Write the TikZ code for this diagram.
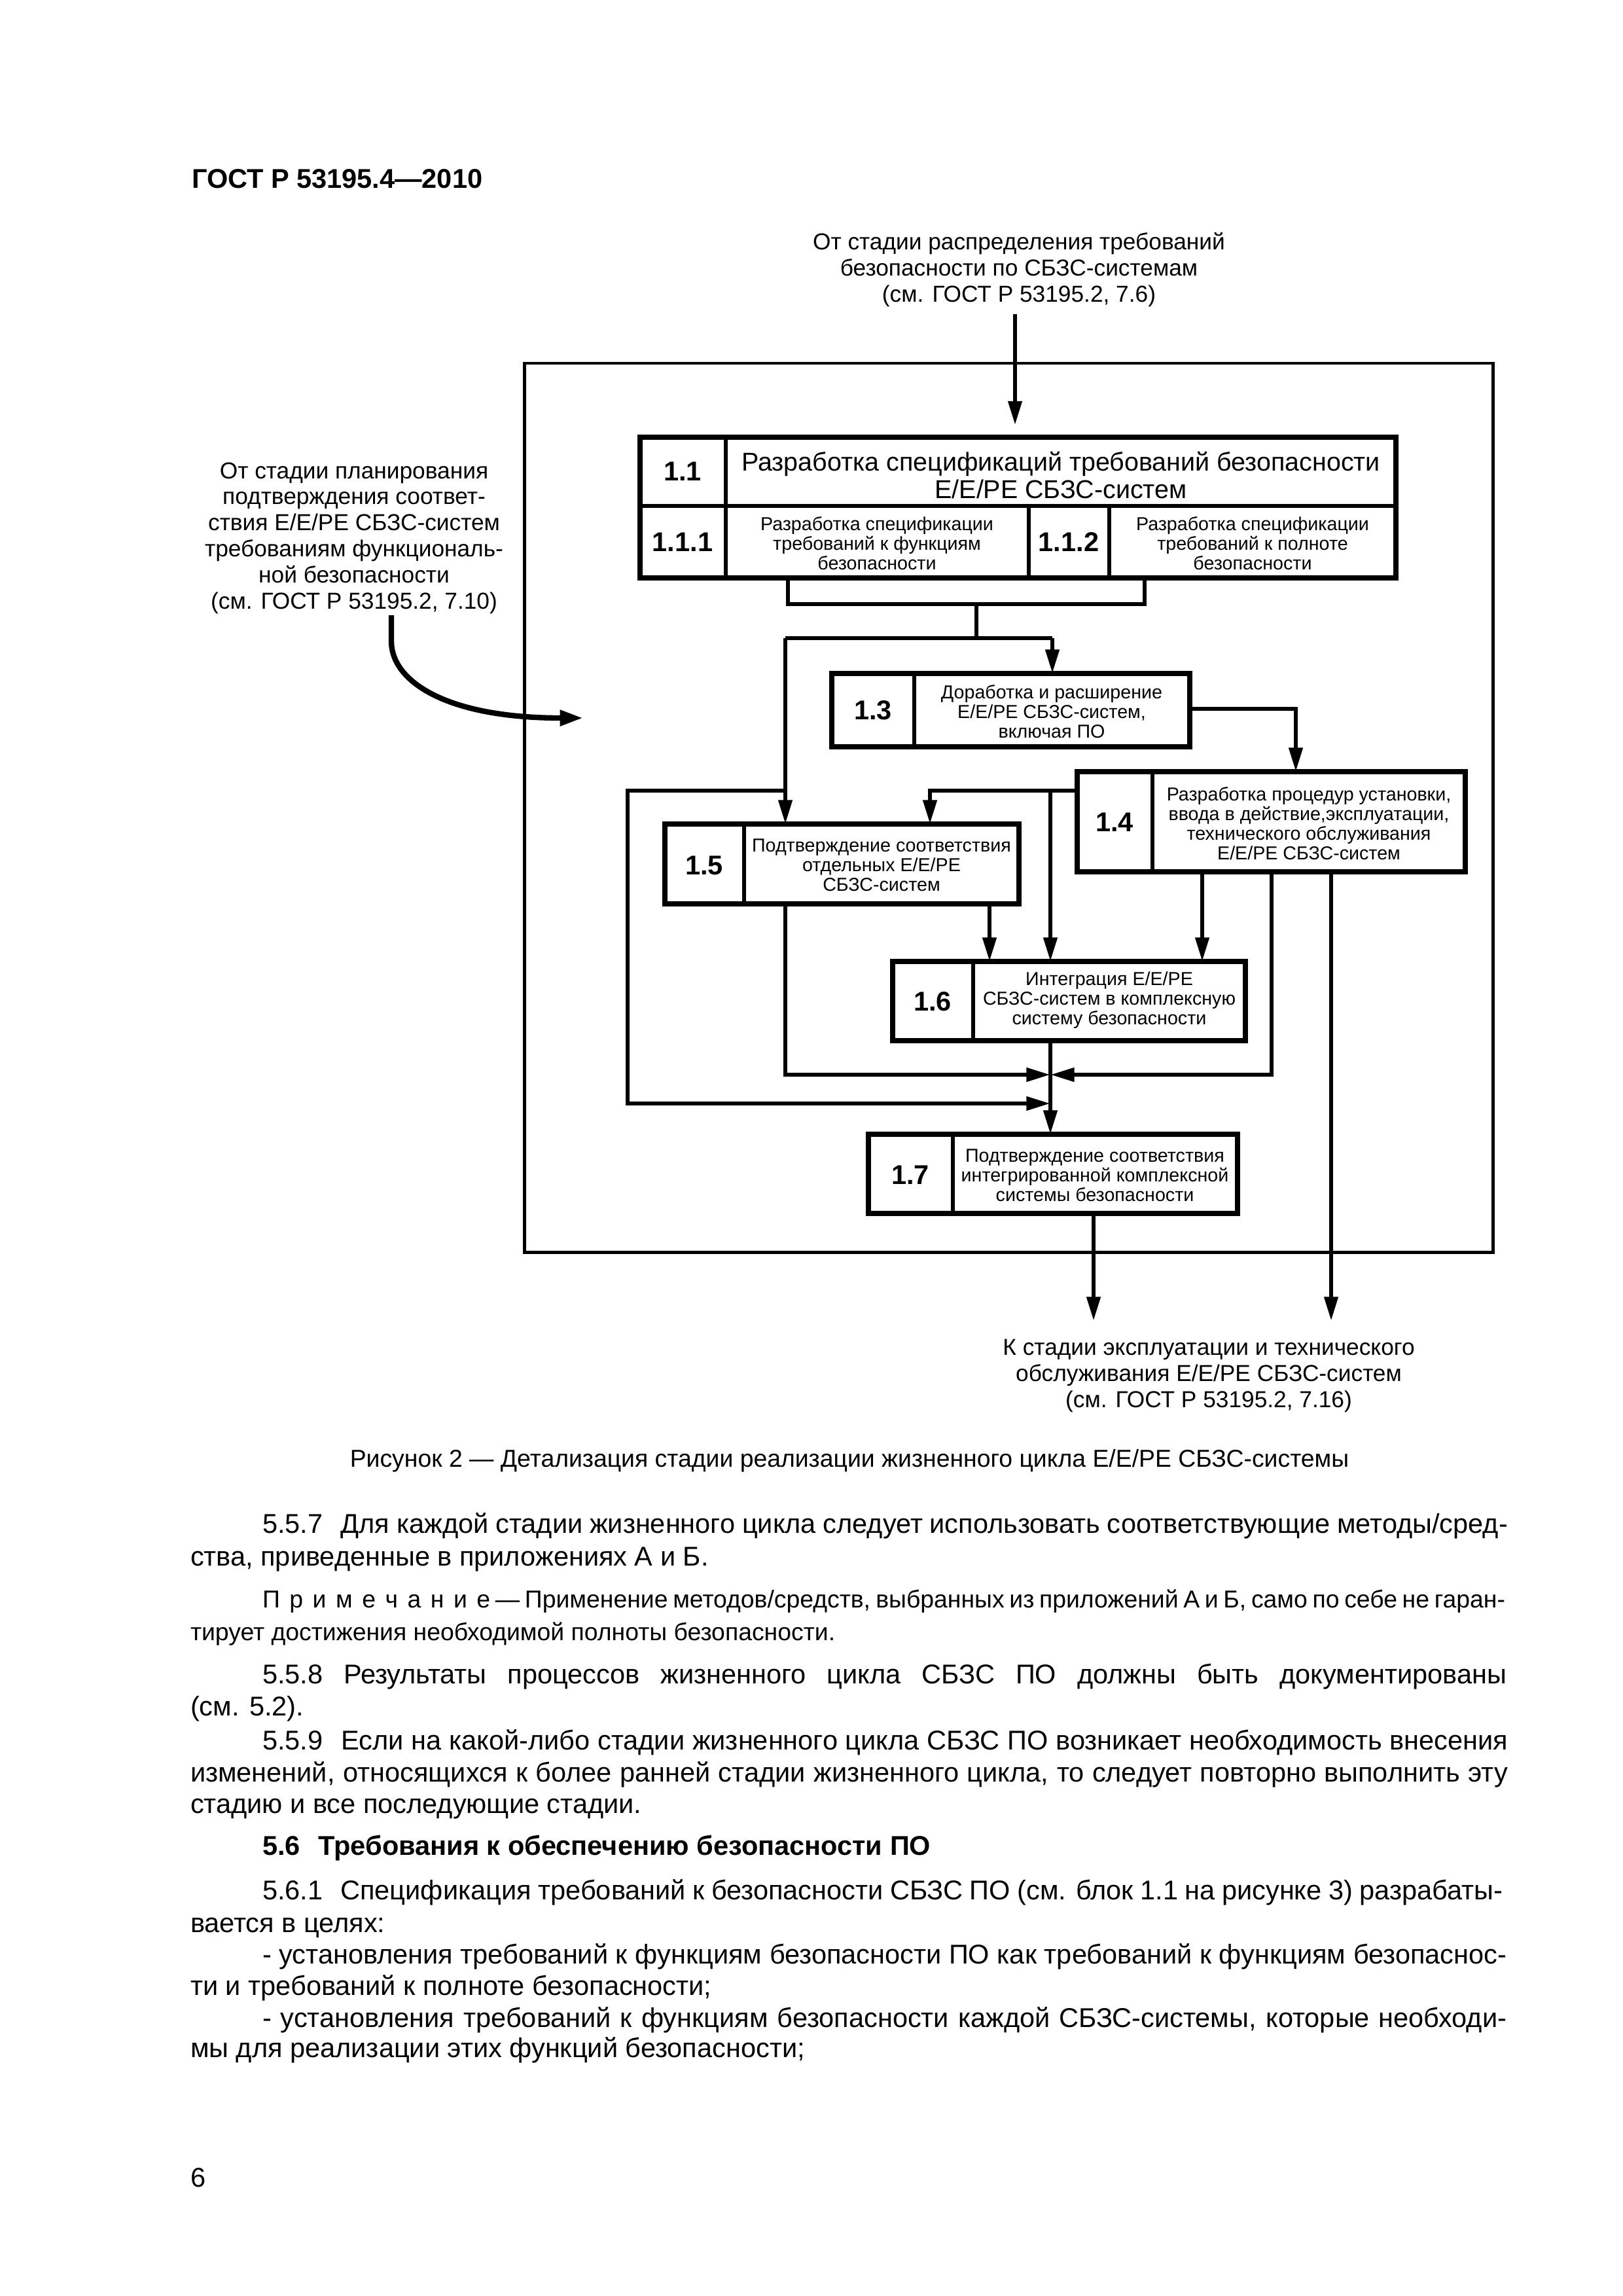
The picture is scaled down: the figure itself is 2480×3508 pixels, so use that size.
\documentclass[tikz,border=0pt]{standalone}
\usepackage{fontspec}
\setmainfont{Liberation Sans}
\usetikzlibrary{arrows.meta}
\newdimen\pxunit
\pxunit=0.2409pt
\tikzset{
  every node/.style={inner sep=0pt, outer sep=0pt},
  blk/.style={draw, line width=1.9pt, rectangle},
  divl/.style={line width=1.5pt},
  conn/.style={line width=1.5pt},
  arr/.style={line width=1.5pt, -{Triangle[length=8.8pt,width=4.9pt]}},
  num/.style={font=\fontsize{10}{12}\selectfont\bfseries},
  btxt/.style={font=\fontsize{6.9}{7.2}\selectfont, align=center},
  ttl/.style={font=\fontsize{9.5}{10.1}\selectfont, align=center},
  outtxt/.style={font=\fontsize{8.5}{9.6}\selectfont, align=center},
  bodyln/.style={font=\fontsize{10}{12}\selectfont, anchor=base west},
  noteln/.style={font=\fontsize{9}{11}\selectfont, anchor=base west},
}
\begin{document}
\begin{tikzpicture}[x=0.2409pt, y=-0.2409pt]
\fill[white] (0,0) rectangle (2480,3508);
\useasboundingbox (0,0) rectangle (2480,3508);

% header
\node[font=\fontsize{10}{12}\selectfont\bfseries, anchor=base west] (hdr) at (293,287) {ГОСТ Р 53195.4—2010};

% outer frame
\node[draw, line width=1.2pt, minimum width=1480\pxunit, minimum height=1358\pxunit] (frame) at (1541,1234) {};

% outside texts
\node[outtxt] (toptxt) at (1557,412) {От стадии распределения требований\\безопасности по СБЗС-системам\\(см. ГОСТ Р 53195.2, 7.6)};
\node[outtxt] (lefttxt) at (541,822) {От стадии планирования\\подтверждения соответ-\\ствия E/E/PE СБЗС-систем\\требованиям функциональ-\\ной безопасности\\(см. ГОСТ Р 53195.2, 7.10)};
\node[outtxt] (outtxt) at (1847,2102) {К стадии эксплуатации и технического\\обслуживания E/E/PE СБЗС-систем\\(см. ГОСТ Р 53195.2, 7.16)};

% boxes
\node[blk, minimum width=1155\pxunit, minimum height=215\pxunit] (b11) at (1555.5,775.5) {};
\node[blk, minimum width=547\pxunit, minimum height=112\pxunit] (b13) at (1544.5,1085) {};
\node[blk, minimum width=593\pxunit, minimum height=153\pxunit] (b14) at (1942.5,1255.5) {};
\node[blk, minimum width=541\pxunit, minimum height=122\pxunit] (b15) at (1286.5,1320) {};
\node[blk, minimum width=539\pxunit, minimum height=121\pxunit] (b16) at (1633.5,1529.5) {};
\node[blk, minimum width=564\pxunit, minimum height=121\pxunit] (b17) at (1609,1793.5) {};

% box dividers
\draw[divl] ([xshift=131\pxunit]b11.north west) -- ([xshift=131\pxunit]b11.south west);
\draw[divl] ([yshift=-105\pxunit]b11.north west) -- ([yshift=-105\pxunit]b11.north east);
\draw[divl] ([xshift=594\pxunit,yshift=-105\pxunit]b11.north west) -- ([xshift=594\pxunit]b11.south west);
\draw[divl] ([xshift=717\pxunit,yshift=-105\pxunit]b11.north west) -- ([xshift=717\pxunit]b11.south west);
\draw[divl] ([xshift=126\pxunit]b13.north west) -- ([xshift=126\pxunit]b13.south west);
\draw[divl] ([xshift=115\pxunit]b14.north west) -- ([xshift=115\pxunit]b14.south west);
\draw[divl] ([xshift=121\pxunit]b15.north west) -- ([xshift=121\pxunit]b15.south west);
\draw[divl] ([xshift=123\pxunit]b16.north west) -- ([xshift=123\pxunit]b16.south west);
\draw[divl] ([xshift=129\pxunit]b17.north west) -- ([xshift=129\pxunit]b17.south west);

% box texts
\node[num] (n11) at (1043,720) {1.1};
\node[ttl] (t11) at (1621,726) {Разработка спецификаций требований безопасности\\E/E/PE СБЗС-систем};
\node[num] (n111) at (1043,828) {1.1.1};
\node[btxt] (t111) at (1340,830) {Разработка спецификации\\требований к функциям\\безопасности};
\node[num] (n112) at (1633,828) {1.1.2};
\node[btxt] (t112) at (1914,830) {Разработка спецификации\\требований к полноте\\безопасности};
\node[num] (n13) at (1334,1085) {1.3};
\node[btxt] (t13) at (1607,1087) {Доработка и расширение\\E/E/PE СБЗС-систем,\\включая ПО};
\node[num] (n14) at (1703,1256) {1.4};
\node[btxt] (t14) at (2000,1258) {Разработка процедур установки,\\ввода в действие,эксплуатации,\\технического обслуживания\\E/E/PE СБЗС-систем};
\node[num] (n15) at (1076,1322) {1.5};
\node[btxt] (t15) at (1347,1322) {Подтверждение соответствия\\отдельных E/E/PE\\СБЗС-систем};
\node[num] (n16) at (1425,1530) {1.6};
\node[btxt] (t16) at (1695,1528) {Интеграция E/E/PE\\СБЗС-систем в комплексную\\систему безопасности};
\node[num] (n17) at (1391,1795) {1.7};
\node[btxt] (t17) at (1673,1796) {Подтверждение соответствия\\интегрированной комплексной\\системы безопасности};

% connectors
\coordinate (topin) at (1551,480);
\draw[arr, shorten >=4.5pt] (topin) -- (topin |- b11.north);

\coordinate (j1) at (1204,923);
\coordinate (j2) at (1749,923);
\draw[conn] (j1 |- b11.south) -- (j1) -- (j2) -- (j2 |- b11.south);
\coordinate (j3) at (1492,923);
\coordinate (j4) at (1492,975);
\draw[conn] (j3) -- (j4);
\coordinate (h1L) at (1200,975);
\coordinate (h1R) at (1608,975);
\draw[conn] (h1L) -- (h1R);
\draw[arr] (h1R) -- (h1R |- b13.north);
\draw[arr] (h1L) -- (h1L |- b15.north);

\coordinate (k1) at (1980,1083);
\draw[arr] (k1 -| b13.east) -- (k1) -- (k1 |- b14.north);

\coordinate (m1) at (1421,1208);
\draw[arr] (m1 -| b14.west) -- (m1) -- (m1 |- b15.north);
\coordinate (m2) at (1605,1208);
\draw[arr] (m2) -- (m2 |- b16.north);

\coordinate (cc) at (1605,0);
\coordinate (n0) at (1200,1208);
\coordinate (n1) at (959,1208);
\coordinate (n2) at (959,1686);
\draw[arr] (n0) -- (n1) -- (n2) -- (cc |- n2);

\coordinate (p1) at (1200,1642);
\draw[arr] (p1 |- b15.south) -- (p1) -- (cc |- p1);
\coordinate (p2) at (1512,0);
\draw[arr] (p2 |- b15.south) -- (p2 |- b16.north);

\coordinate (q1) at (1837,0);
\draw[arr] (q1 |- b14.south) -- (q1 |- b16.north);
\coordinate (q2) at (1943,1642);
\draw[arr] (q2 |- b14.south) -- (q2) -- (cc |- q2);
\coordinate (q3) at (2034,2018);
\draw[arr] (q3 |- b14.south) -- (q3);

\draw[arr] (cc |- b16.south) -- (cc |- b17.north);
\coordinate (r1) at (1671,2018);
\draw[arr] (r1 |- b17.south) -- (r1);

% curved arrow from left text
\coordinate (cv0) at (598,940);
\coordinate (cv1) at (598,980);
\coordinate (cvend) at (891,1097);
\draw[line width=2pt, -{Triangle[length=8.5pt,width=5.5pt]}] (cv0) -- (cv1) .. controls (598,1040) and (680,1097) .. (cvend);

% caption
\node[font=\fontsize{9}{11}\selectfont] (cap) at (1298,2232) {Рисунок 2 — Детализация стадии реализации жизненного цикла E/E/PE СБЗС-системы};

% body text
\node[bodyln] (l1) at (401,2342) {\makebox[1903\pxunit][s]{5.5.7\hspace{4pt} Для каждой стадии жизненного цикла следует использовать соответствующие методы/сред-}};
\node[bodyln] (l2) at (291,2392) {ства, приведенные в приложениях А и Б.};
\node[noteln] (l3) at (401,2456) {\makebox[1899\pxunit][s]{\mbox{П\kern3.5pt р\kern3.5pt и\kern3.5pt м\kern3.5pt е\kern3.5pt ч\kern3.5pt а\kern3.5pt н\kern3.5pt и\kern3.5pt е} — Применение методов/средств, выбранных из приложений А и Б, само по себе не гаран-}};
\node[noteln] (l4) at (291,2506) {тирует достижения необходимой полноты безопасности.};
\node[bodyln] (l5) at (401,2572) {\makebox[1901\pxunit][s]{5.5.8 Результаты процессов жизненного цикла СБЗС ПО должны быть документированы}};
\node[bodyln] (l6) at (291,2621) {(см. 5.2).};
\node[bodyln] (l7) at (401,2673) {\makebox[1903\pxunit][s]{5.5.9\hspace{4pt} Если на какой-либо стадии жизненного цикла СБЗС ПО возникает необходимость внесения}};
\node[bodyln] (l8) at (291,2722) {\makebox[2013\pxunit][s]{изменений, относящихся к более ранней стадии жизненного цикла, то следует повторно выполнить эту}};
\node[bodyln] (l9) at (291,2770) {стадию и все последующие стадии.};
\node[bodyln, font=\fontsize{10}{12}\selectfont\bfseries] (l10) at (401,2834) {5.6\hspace{4pt} Требования к обеспечению безопасности ПО};
\node[bodyln] (l11) at (401,2902) {\makebox[1895\pxunit][s]{5.6.1\hspace{4pt} Спецификация требований к безопасности СБЗС ПО (см. блок 1.1 на рисунке 3) разрабаты-}};
\node[bodyln] (l12) at (291,2952) {вается в целях:};
\node[bodyln] (l13) at (401,3000) {\makebox[1901\pxunit][s]{- установления требований к функциям безопасности ПО как требований к функциям безопаснос-}};
\node[bodyln] (l14) at (291,3048) {ти и требований к полноте безопасности;};
\node[bodyln] (l15) at (401,3097) {\makebox[1901\pxunit][s]{- установления требований к функциям безопасности каждой СБЗС-системы, которые необходи-}};
\node[bodyln] (l16) at (291,3143) {мы для реализации этих функций безопасности;};
\node[bodyln] (pg) at (291,3341) {6};
\end{tikzpicture}
\end{document}
